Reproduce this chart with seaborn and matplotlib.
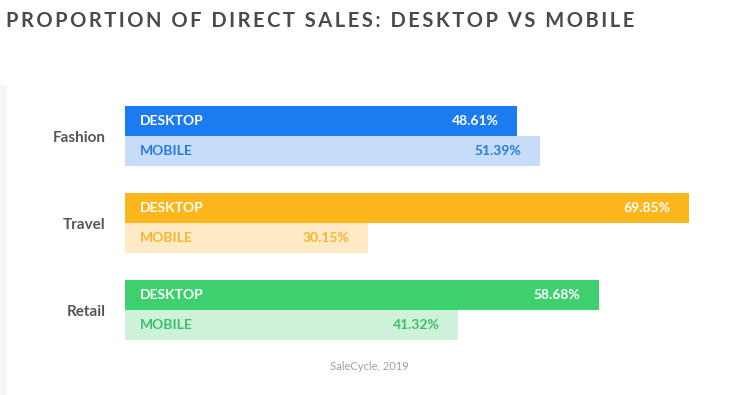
import pandas as pd
import matplotlib.pyplot as plt
import seaborn as sns
from matplotlib.patches import Rectangle

# Data
categories = ['Fashion', 'Travel', 'Retail']
desktop = [48.61, 69.85, 58.68]
mobile = [51.39, 30.15, 41.32]

# colours per category: (desktop bar, mobile bar, mobile text)
desktop_colors = ['#1b7cf2', '#fdb71d', '#3ecf6f']
mobile_colors = ['#c6ddf9', '#ffeac6', '#cdf2d9']
mobile_text = ['#2b78e4', '#f7b52a', '#3cbf69']

title = 'PROPORTION OF DIRECT SALES: DESKTOP VS MOBILE'

df = pd.DataFrame({
    'category': categories * 2,
    'device': ['DESKTOP'] * 3 + ['MOBILE'] * 3,
    'share': desktop + mobile,
})

sns.set_style('white')
plt.rcParams['font.family'] = ['Lato', 'DejaVu Sans']

fig = plt.figure(figsize=(7.41, 3.95), dpi=100)
fig.patch.set_facecolor('white')
ax = fig.add_axes([125 / 741, 40 / 395, 616 / 741, 265 / 395])

sns.barplot(data=df, y='category', x='share', hue='device', orient='h',
            width=0.69, dodge=True, legend=False, ax=ax, saturation=1)

px_per_unit = 8.07
ax.set_xlim(0, 616 / px_per_unit)
ax.set_ylim(2.517, -0.529)

pad = 1.9
for i, bar in enumerate(ax.containers[0]):
    bar.set_facecolor(desktop_colors[i])
    bar.set_edgecolor('none')
    yc = bar.get_y() + bar.get_height() / 2
    ax.text(pad, yc, 'DESKTOP', color='white', fontweight='bold',
            fontsize=10, va='center', ha='left')
    ax.text(bar.get_width() - 2.3, yc, f'{bar.get_width():.2f}%', color='white',
            fontweight='bold', fontsize=10, va='center', ha='right')
for i, bar in enumerate(ax.containers[1]):
    bar.set_facecolor(mobile_colors[i])
    bar.set_edgecolor('none')
    yc = bar.get_y() + bar.get_height() / 2
    ax.text(pad, yc, 'MOBILE', color=mobile_text[i], fontweight='bold',
            fontsize=10, va='center', ha='left')
    ax.text(bar.get_width() - 2.3, yc, f'{bar.get_width():.2f}%', color=mobile_text[i],
            fontweight='bold', fontsize=10, va='center', ha='right')

ax.set_xlabel('')
ax.set_ylabel('')
ax.set_xticks([])
ax.tick_params(axis='y', length=0, pad=14)
for lbl in ax.get_yticklabels():
    lbl.set_fontweight('bold')
    lbl.set_color('#555555')
    lbl.set_fontsize(11)
sns.despine(ax=ax, left=True, bottom=True)

# faint strip on the left edge of the card
fig.patches.append(Rectangle((0, 0), 7 / 741, 310 / 395, transform=fig.transFigure,
                             facecolor='#f5f5f5', edgecolor='none', zorder=0))

# letter-spaced title (thin spaces between letters)
spaced = '\u2009'.join(title)
fig.text(6 / 741, 1 - 21 / 395, spaced, fontsize=14.5, fontweight='bold',
         color='#4a4a4a', va='center', ha='left')
fig.text(369 / 741, 1 - 367 / 395, 'SaleCycle, 2019', fontsize=8,
         color='#a0a0a0', va='center', ha='center')

fig.savefig('out.png', dpi=100)
